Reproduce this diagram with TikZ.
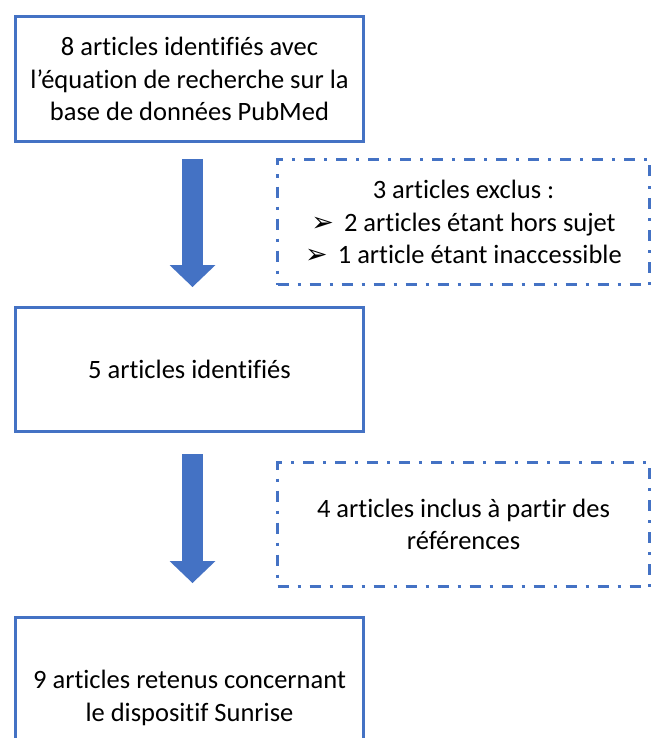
\documentclass[tikz,border=0pt]{standalone}
\usepackage{fontspec}
\setmainfont[Ligatures=NoCommon]{Carlito}
\newfontfamily\dingfont{DejaVu Sans}
\usetikzlibrary{arrows.meta}
\definecolor{bleu}{HTML}{4472C4}
\newcommand\puce{{\dingfont\fontsize{27}{27}\selectfont ➢}\hspace{10pt}}

\begin{document}
\begin{tikzpicture}[x=1pt,y=-1pt,font=\fontsize{26.5pt}{32.5pt}\selectfont,
box/.style={draw=bleu,line width=3pt,minimum width=348pt,align=center,inner sep=0pt,text=black},
dashbox/.style={box,minimum width=372pt,dash pattern=on 11pt off 9pt on 3pt off 9pt},
fleche/.style={draw=bleu,line width=21pt,-{Triangle[length=22pt,width=46pt,line width=0pt]}}]
\useasboundingbox(0,0)rectangle(653,738);
\node[box,minimum height=125pt](ident)at(189.5,79){8 articles identifiés avec\\l’équation de recherche sur la\\base de données PubMed};
\node[box,minimum height=124pt](restant)at(189.5,369.5){5 articles identifiés};
\node[box,minimum height=161pt](retenus)at(189.5,698){9 articles retenus concernant\\le dispositif Sunrise};
\node[dashbox,minimum height=125pt](exclus)at(463.5,222){3 articles exclus :\\\puce 2 articles étant hors sujet\\\puce 1 article étant inaccessible};
\node[dashbox,minimum height=124pt](inclus)at(463.5,524.5){4 articles inclus à partir des\\références};
\draw[fleche,shorten <=16pt,shorten >=19pt]([xshift=3pt]ident.south)--([xshift=3pt]restant.north);
\draw[fleche,shorten <=21pt,shorten >=33pt]([xshift=3pt]restant.south)--([xshift=3pt]retenus.north);
\end{tikzpicture}
\end{document}
